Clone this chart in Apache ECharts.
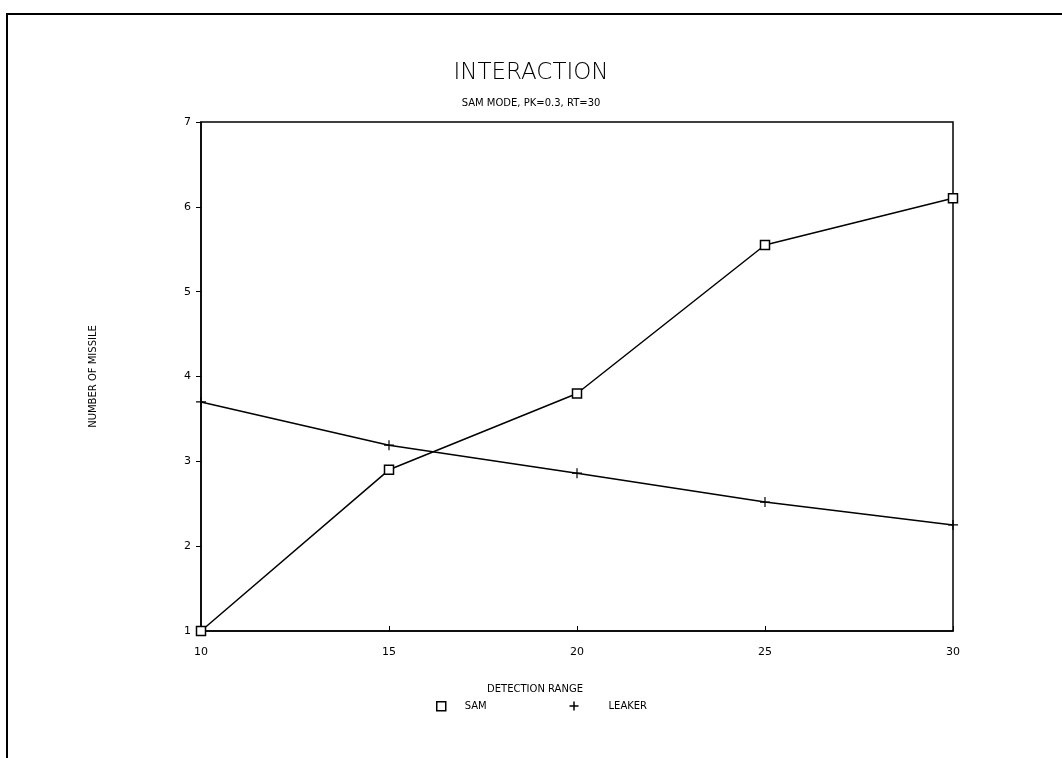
<!DOCTYPE html>
<html>
<head>
<meta charset="utf-8">
<script src="https://cdn.jsdelivr.net/npm/echarts@6/dist/echarts.min.js"></script>
<style>
html,body{margin:0;padding:0;background:#fff;}
#frame{position:absolute;left:6px;top:13px;width:1062px;height:745px;border-left:2px solid #000;border-top:2px solid #000;box-sizing:border-box;}
#chart{position:absolute;left:0;top:0;width:1062px;height:758px;}
</style>
</head>
<body>
<div id="frame"></div>
<div id="chart"></div>
<script>
const detectionRange = [10, 15, 20, 25, 30];
const samValues = [1.0, 2.9, 3.8, 5.55, 6.1];
const leakerValues = [3.7, 3.19, 2.86, 2.52, 2.25];
const yTicks = [1, 2, 3, 4, 5, 6, 7];
const xTicks = [10, 15, 20, 25, 30];

const plusPath = 'path://M5,0 L5,10 M0,5 L10,5';
const font = 'DejaVu Sans';

const chart = echarts.init(document.getElementById('chart'));
chart.setOption({
  animation: false,
  backgroundColor: 'transparent',
  title: [
    {text: 'INTERACTION', left: 'center', top: 57, textStyle: {fontFamily: font, fontSize: 23, fontWeight: 'lighter', color: '#000'}},
    {text: 'SAM MODE, PK=0.3, RT=30', left: 'center', top: 93, textStyle: {fontFamily: font, fontSize: 10, fontWeight: 'normal', color: '#000'}},
    {text: 'DETECTION RANGE', left: 530, textAlign: 'center', top: 679, textStyle: {fontFamily: font, fontSize: 10, fontWeight: 'normal', color: '#000'}}
  ],
  legend: [
    {data: [{name: 'SAM', icon: 'rect'}], left: 431, top: 696, itemWidth: 9, itemHeight: 9, itemGap: 0,
     textStyle: {fontFamily: font, fontSize: 10, color: '#000', padding: [0, 0, 0, 14]}, itemStyle: {color: '#fff', borderColor: '#000', borderWidth: 1.5}},
    {data: [{name: 'LEAKER', icon: plusPath}], left: 562, top: 694, itemWidth: 9, itemHeight: 9, itemGap: 0,
     textStyle: {fontFamily: font, fontSize: 10, color: '#000', padding: [0, 0, 0, 25]}, itemStyle: {color: 'none', borderColor: '#000', borderWidth: 1.5}}
  ],
  grid: {left: 201, right: 109, top: 122, bottom: 127, show: true, borderColor: '#000', borderWidth: 1.5},
  xAxis: {
    type: 'value', min: 10, max: 30, interval: 5,
    axisLine: {lineStyle: {color: '#000', width: 1.5}},
    axisTick: {inside: true, length: 5, lineStyle: {color: '#000'}},
    axisLabel: {fontFamily: font, fontSize: 11, color: '#000', margin: 16,
      formatter: v => xTicks.includes(v) ? String(v) : ''},
    splitLine: {show: false}
  },
  yAxis: {
    type: 'value', min: 1, max: 7, interval: 1,
    name: 'NUMBER OF MISSILE', nameLocation: 'middle', nameGap: 103,
    nameTextStyle: {fontFamily: font, fontSize: 10, color: '#000'},
    axisLine: {show: true, lineStyle: {color: '#000', width: 1.5}},
    axisTick: {show: true, length: 5, lineStyle: {color: '#000'}},
    axisLabel: {fontFamily: font, fontSize: 11, color: '#000', margin: 10,
      formatter: v => yTicks.includes(v) ? String(v) : ''},
    splitLine: {show: false}
  },
  series: [
    {name: 'SAM', type: 'line', data: detectionRange.map((x, i) => [x, samValues[i]]),
     symbol: 'rect', symbolSize: 9, showAllSymbol: true,
     lineStyle: {color: '#000', width: 1.5},
     itemStyle: {color: '#fff', borderColor: '#000', borderWidth: 1.5}},
    {name: 'LEAKER', type: 'line', data: detectionRange.map((x, i) => [x, leakerValues[i]]),
     symbol: plusPath, symbolSize: 10, showAllSymbol: true,
     lineStyle: {color: '#000', width: 1.5},
     itemStyle: {color: 'none', borderColor: '#000', borderWidth: 1.2}}
  ]
});
</script>
</body>
</html>
